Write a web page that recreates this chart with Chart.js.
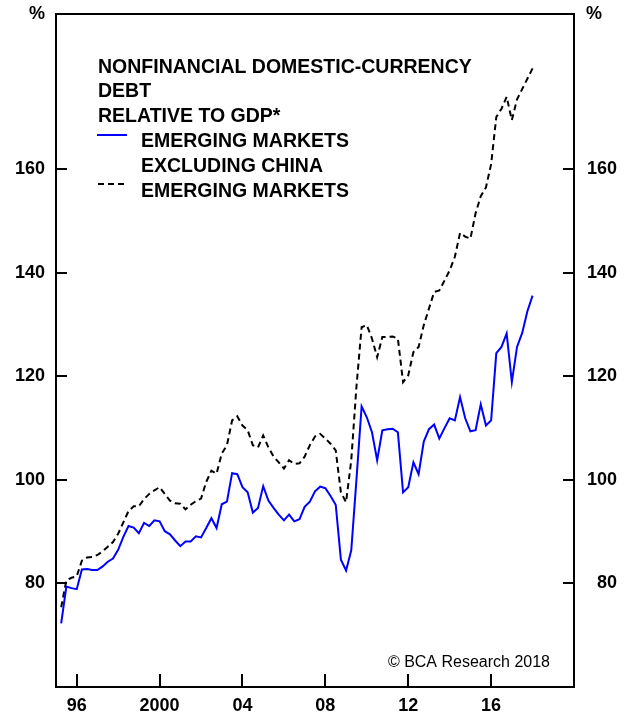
<!DOCTYPE html>
<html lang="en">
<head>
    <meta charset="UTF-8">
    <title>Nonfinancial Domestic-Currency Debt Relative to GDP</title>
    <script src="https://cdn.jsdelivr.net/npm/chart.js"></script>
    <style>
        html, body { margin: 0; padding: 0; background: #fff; }
        #wrap { width: 632px; height: 717px; }
    </style>
</head>
<body>
    <div id="wrap"><canvas id="debtChart" width="632" height="717"></canvas></div>

    <script>
        // quarterly observations, first one is 1995 Q2
        const firstQuarter = 1995.25;

        // emerging markets excluding China (solid blue)
        const emExChina = [
            72.3, 79.4, 79.1,
            78.9, 82.7, 82.8, 82.6,
            82.6, 83.3, 84.2, 84.8,
            86.5, 89.0, 91.1, 90.8,
            89.7, 91.7, 91.1, 92.2,
            92.0, 90.1, 89.5, 88.3,
            87.2, 88.1, 88.1, 89.1,
            88.9, 90.7, 92.6, 90.7,
            95.3, 95.8, 101.3, 101.1,
            98.6, 97.6, 93.7, 94.6,
            98.8, 96.0, 94.6, 93.3,
            92.2, 93.3, 92.0, 92.4,
            94.8, 95.8, 97.8, 98.7,
            98.4, 96.9, 95.2, 84.6,
            82.5, 86.4, 100.0, 114.2,
            112.1, 109.2, 103.8, 109.6,
            109.8, 109.9, 109.2, 97.6,
            98.6, 103.4, 101.1, 107.4,
            109.8, 110.7, 108.0, 110.0,
            111.9, 111.5, 116.0, 111.9,
            109.4, 109.6, 114.6, 110.5,
            111.5, 124.5, 125.7, 128.3,
            118.9, 125.7, 128.4, 132.6,
            135.6
        ];

        // emerging markets (dashed black)
        const emAll = [
            75.4, 80.6, 81.1,
            81.4, 84.4, 85.0, 85.1,
            85.5, 86.2, 87.1, 88.0,
            89.6, 91.8, 94.0, 94.9,
            94.9, 96.3, 97.3, 98.0,
            98.6, 97.3, 96.0, 95.5,
            95.4, 94.3, 95.2, 95.9,
            96.4, 99.6, 101.8, 101.2,
            105.1, 106.7, 111.5, 112.3,
            110.5, 109.6, 106.7, 106.3,
            108.6, 106.3, 104.5, 103.4,
            102.2, 103.8, 103.1, 103.2,
            104.5, 106.7, 108.4, 108.9,
            108.0, 107.0, 105.7, 97.6,
            95.7, 103.8, 118.0, 129.5,
            129.9, 127.3, 123.7, 127.6,
            127.6, 127.7, 127.3, 118.9,
            120.2, 124.7, 125.7, 129.9,
            133.1, 136.3, 136.6, 138.5,
            140.5, 143.1, 147.7, 147.0,
            146.6, 151.5, 154.8, 156.5,
            161.0, 170.1, 171.7, 174.0,
            169.5, 173.5, 175.5, 177.5,
            179.5
        ];

        const yearTicks = [1996, 2000, 2004, 2008, 2012, 2016];
        const yearLabels = ['96', '2000', '04', '08', '12', '16'];
        const pctTicks = [80, 100, 120, 140, 160];

        const titleLines = ['NONFINANCIAL DOMESTIC-CURRENCY', 'DEBT', 'RELATIVE TO GDP*'];
        const seriesNames = [['EMERGING MARKETS', 'EXCLUDING CHINA'], ['EMERGING MARKETS']];

        const FONT = '"Liberation Sans", Arial, Helvetica, sans-serif';
        Chart.defaults.font.family = FONT;
        Chart.defaults.color = '#000';

        function toPoints(values) {
            return values.map((v, i) => ({ x: firstQuarter + i * 0.25, y: v }));
        }

        // no extra room for half-labels at the ends of the axes
        function noEdgePadding(s) {
            s.paddingTop = 0;
            s.paddingBottom = 0;
            s.paddingLeft = 0;
            s.paddingRight = 0;
        }

        // box, inward tick marks and the text inside the panel
        const frame = {
            id: 'frame',
            afterDraw(chart) {
                const { ctx, chartArea: a, scales } = chart;
                ctx.save();
                ctx.strokeStyle = '#000';
                ctx.lineWidth = 2;
                ctx.strokeRect(a.left, a.top, a.right - a.left, a.bottom - a.top);

                ctx.beginPath();
                pctTicks.forEach(v => {
                    const y = Math.round(scales.y.getPixelForValue(v));
                    ctx.moveTo(a.left, y); ctx.lineTo(a.left + 11, y);
                    ctx.moveTo(a.right - 11, y); ctx.lineTo(a.right, y);
                });
                yearTicks.forEach(v => {
                    const x = Math.round(scales.x.getPixelForValue(v));
                    ctx.moveTo(x, a.bottom); ctx.lineTo(x, a.bottom - 13);
                });
                ctx.stroke();

                // % unit labels
                ctx.font = 'bold 18px ' + FONT;
                ctx.fillStyle = '#000';
                ctx.textBaseline = 'middle';
                ctx.textAlign = 'right';
                ctx.fillText('%', 45, 14);
                ctx.textAlign = 'left';
                ctx.fillText('%', 586, 14);

                // legend block
                ctx.font = 'bold 19.5px ' + FONT;
                ctx.textBaseline = 'alphabetic';
                let base = 72.5;
                titleLines.forEach(t => { ctx.fillText(t, 98, base); base += 24.9; });
                seriesNames[0].forEach(t => { ctx.fillText(t, 141, base); base += 24.9; });
                seriesNames[1].forEach(t => { ctx.fillText(t, 141, base); base += 24.9; });

                ctx.lineWidth = 2;
                ctx.strokeStyle = '#0000ff';
                ctx.beginPath();
                ctx.moveTo(97, 135); ctx.lineTo(127, 135);
                ctx.stroke();
                ctx.strokeStyle = '#000';
                ctx.setLineDash([6, 4]);
                ctx.beginPath();
                ctx.moveTo(98, 184); ctx.lineTo(128, 184);
                ctx.stroke();
                ctx.setLineDash([]);

                ctx.font = '16px ' + FONT;
                ctx.textAlign = 'right';
                ctx.fillText('\u00A9 BCA Research 2018', 550, 667);
                ctx.restore();
            }
        };

        const tickFont = { size: 18, weight: 'bold', family: FONT };

        new Chart(document.getElementById('debtChart').getContext('2d'), {
            type: 'line',
            data: {
                datasets: [
                    { label: 'Emerging markets excluding China', data: toPoints(emExChina), borderColor: '#0000ff', borderWidth: 2, pointRadius: 0, fill: false, tension: 0, yAxisID: 'y' },
                    { label: 'Emerging markets', data: toPoints(emAll), borderColor: '#000', borderWidth: 2, borderDash: [6, 4], pointRadius: 0, fill: false, tension: 0, yAxisID: 'y' }
                ]
            },
            options: {
                responsive: false,
                animation: false,
                layout: { padding: { top: 14, right: 15, left: 0, bottom: 0 } },
                scales: {
                    x: {
                        type: 'linear',
                        min: 1995,
                        max: 2020,
                        afterBuildTicks: s => { s.ticks = yearTicks.map(v => ({ value: v })); },
                        afterFit: s => { s.height = 30; noEdgePadding(s); },
                        grid: { display: false, drawTicks: false },
                        border: { display: false },
                        ticks: {
                            autoSkip: false,
                            maxRotation: 0,
                            padding: 8,
                            font: tickFont,
                            callback: v => yearLabels[yearTicks.indexOf(v)]
                        }
                    },
                    y: {
                        position: 'left',
                        min: 60,
                        max: 190,
                        afterBuildTicks: s => { s.ticks = pctTicks.map(v => ({ value: v })); },
                        afterFit: s => { s.width = 56; noEdgePadding(s); },
                        grid: { display: false, drawTicks: false },
                        border: { display: false },
                        ticks: { padding: 11, font: tickFont }
                    },
                    y2: {
                        position: 'right',
                        min: 60,
                        max: 190,
                        afterBuildTicks: s => { s.ticks = pctTicks.map(v => ({ value: v })); },
                        afterFit: s => { s.width = 43; noEdgePadding(s); },
                        grid: { display: false, drawTicks: false },
                        border: { display: false },
                        ticks: { crossAlign: 'far', font: tickFont }
                    }
                },
                plugins: {
                    legend: { display: false },
                    tooltip: { enabled: false }
                }
            },
            plugins: [frame]
        });
    </script>
</body>
</html>
